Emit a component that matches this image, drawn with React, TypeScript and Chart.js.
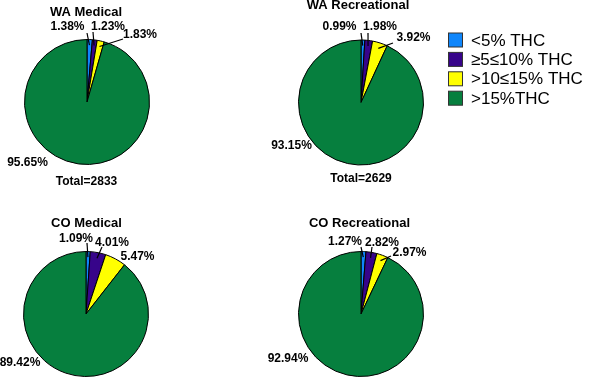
import React, { useEffect, useRef } from "react";
import { Chart, registerables } from "chart.js";

Chart.register(...registerables);

// ---- data ----
const thcCategories = ["<5% THC", "\u22655\u226410% THC", ">10\u226415% THC", ">15%THC"];
const panelTitles = ["WA Medical", "WA Recreational", "CO Medical", "CO Recreational"];
const waMedical = [1.38, 1.23, 1.83, 95.65];
const waRecreational = [0.99, 1.98, 3.92, 93.15];
const coMedical = [1.09, 4.01, 5.47, 89.42];
const coRecreational = [1.27, 2.82, 2.97, 92.94];
const panelTotals: (number | null)[] = [2833, 2629, null, null];

const sliceColors = ["#0f86fb", "#37048a", "#ffff00", "#067f3e"];

const W = 600;
const H = 379;
const R = 62.5;
const FONT = '"Liberation Sans", Arial, Helvetica, sans-serif';

// ---- layout (positions only) ----
type Lbl = number[]; // [dx, dy, lineDx?, lineDy?]
const layouts = [
  {
    cx: 87, cy: 102, title: [-1, -90], total: [-0.5, 80],
    labels: [[-19.5, -75, 0, -69], [21, -75, 6, -70], [53, -67, 36, -63], [-59.5, 61]] as Lbl[],
  },
  {
    cx: 361, cy: 102.5, title: [-3, -97], total: [0, 76.5],
    labels: [[-21.5, -75.5, 0, -69.5], [19, -75.5, 7, -69.5], [52.5, -64.5, 32, -59.5], [-69.5, 43.5]] as Lbl[],
  },
  {
    cx: 86, cy: 314, title: [0.5, -91], total: [0, 0],
    labels: [[-10, -75, 1, -71], [26, -71, 16, -67], [51.5, -57], [-66, 49]] as Lbl[],
  },
  {
    cx: 361, cy: 314, title: [-1.5, -91], total: [0, 0],
    labels: [[-16, -72, 0, -67], [21, -71, 11, -67], [48.5, -61, 30, -58], [-73, 45]] as Lbl[],
  },
];

const seriesList = [waMedical, waRecreational, coMedical, coRecreational];

function makeAnnotPlugin(idx: number, withLegend: boolean) {
  return {
    id: "annot" + idx,
    afterDraw(chart: any) {
      const ctx = chart.ctx as CanvasRenderingContext2D;
      const lay = layouts[idx];
      const meta = chart.getDatasetMeta(0);
      const values = chart.data.datasets[0].data as number[];
      const first = meta.data[0] as any;
      const cx = first.x;
      const cy = first.y;
      ctx.save();
      ctx.fillStyle = "#000";
      ctx.strokeStyle = "#000";
      ctx.textAlign = "center";
      ctx.textBaseline = "middle";
      // title
      ctx.font = `bold 13px ${FONT}`;
      ctx.fillText(panelTitles[idx], cx + lay.title[0], cy + lay.title[1]);
      // labels
      ctx.font = `bold 12px ${FONT}`;
      values.forEach((v, i) => {
        const l = lay.labels[i];
        ctx.fillText(`${v.toFixed(2)}%`, cx + l[0], cy + l[1]);
        if (l.length >= 4) {
          const arc = meta.data[i] as any;
          const mid = (arc.startAngle + arc.endAngle) / 2;
          const rr = arc.outerRadius * 0.91;
          ctx.beginPath();
          ctx.lineWidth = 1.2;
          ctx.moveTo(cx + l[2], cy + l[3]);
          ctx.lineTo(arc.x + Math.cos(mid) * rr, arc.y + Math.sin(mid) * rr);
          ctx.stroke();
        }
      });
      // total
      const tot = panelTotals[idx];
      if (tot !== null) {
        ctx.font = `bold 12px ${FONT}`;
        ctx.fillText(`Total=${tot}`, cx + lay.total[0], cy + lay.total[1]);
      }
      // legend
      if (withLegend) {
        const labels = chart.data.labels as string[];
        const colors = chart.data.datasets[0].backgroundColor as string[];
        ctx.textAlign = "left";
        ctx.font = `17px ${FONT}`;
        labels.forEach((lab, i) => {
          const yc = 40 + i * 19.4;
          ctx.fillStyle = colors[i];
          ctx.fillRect(448.5, yc - 7, 14, 14);
          ctx.lineWidth = 1;
          ctx.strokeStyle = "#333";
          ctx.strokeRect(448.5, yc - 7, 14, 14);
          ctx.fillStyle = "#000";
          ctx.fillText(lab, 471, yc + 1);
        });
      }
      ctx.restore();
    },
  };
}

function PiePanel({ idx }: { idx: number }) {
  const ref = useRef<HTMLCanvasElement>(null);
  useEffect(() => {
    const canvas = ref.current;
    if (!canvas) return;
    const lay = layouts[idx];
    const box = R + 0.5;
    const chart = new Chart(canvas, {
      type: "pie",
      data: {
        labels: thcCategories,
        datasets: [
          {
            data: seriesList[idx],
            backgroundColor: sliceColors,
            borderColor: "#000",
            borderWidth: 1,
            hoverOffset: 0,
          },
        ],
      },
      options: {
        responsive: false,
        animation: false,
        devicePixelRatio: 1,
        radius: R,
        layout: {
          padding: {
            left: lay.cx - box,
            right: W - lay.cx - box,
            top: lay.cy - box,
            bottom: H - lay.cy - box,
          },
        },
        plugins: {
          legend: { display: false },
          tooltip: { enabled: false },
        },
        events: [],
      } as any,
      plugins: [makeAnnotPlugin(idx, idx === 0)],
    });
    return () => chart.destroy();
  }, [idx]);
  return (
    <canvas
      ref={ref}
      width={W}
      height={H}
      style={{ position: "absolute", left: 0, top: 0, width: W, height: H, pointerEvents: "none" }}
    />
  );
}

export default function App() {
  return (
    <div style={{ position: "fixed", left: 0, top: 0, width: W, height: H, background: "#fff", overflow: "hidden" }}>
      {[0, 1, 2, 3].map((i) => (
        <PiePanel key={i} idx={i} />
      ))}
    </div>
  );
}
